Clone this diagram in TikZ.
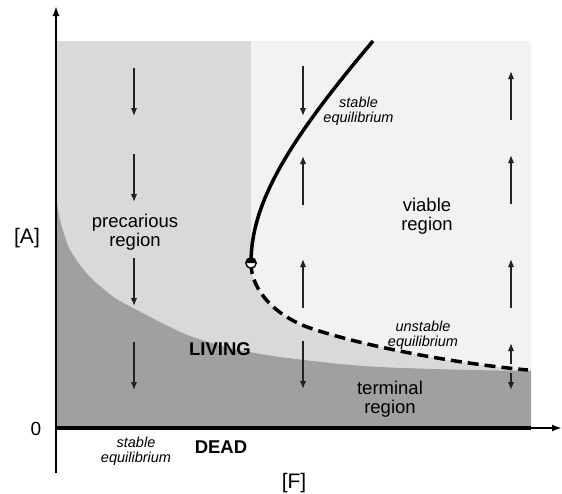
\documentclass[tikz,border=0pt]{standalone}
\usepackage{fontspec}
\setmainfont{Liberation Sans}
\usetikzlibrary{arrows.meta}
\definecolor{darkreg}{HTML}{A0A0A0}
\definecolor{lightreg}{HTML}{D9D9D9}
\definecolor{vlightreg}{HTML}{F2F2F2}
\definecolor{arrowcol}{HTML}{222222}
\tikzset{
  lbl/.style={font=\fontsize{18.5}{19}\selectfont, align=center, inner sep=0pt, anchor=base},
  ilbl/.style={font=\fontsize{14.5}{15}\selectfont\itshape, align=center, inner sep=0pt, anchor=base},
  blbl/.style={font=\fontsize{18.5}{19}\selectfont\bfseries, inner sep=0pt, anchor=base},
  axlbl/.style={font=\fontsize{21}{22}\selectfont, inner sep=0pt, anchor=base},
  flow/.style={draw=arrowcol, line width=1.5pt, -{Latex[length=8pt,width=6.5pt]}},
  axisline/.style={line width=1.8pt, -{Latex[length=10pt,width=7pt]}},
  eqline/.style={line width=3.5pt},
  uneqline/.style={line width=3.5pt, dash pattern=on 11pt off 6pt}
}
\begin{document}
\begin{tikzpicture}[x=1pt,y=-1pt]
\useasboundingbox (0,0) rectangle (562,493);
% regions
\fill[lightreg] (57,41) rectangle (531,428);
\fill[vlightreg] (251,41) -- (531,41) -- (531,370) -- (528,370)
  .. controls (450,363) and (360,345) .. (310,328)
  .. controls (278,317) and (251,292) .. (251,263) -- cycle;
\fill[darkreg] plot[smooth, tension=0.5] coordinates {(57,203) (60,220) (65,237) (70,250) (80,265) (90,277) (100,286) (115,298) (133,308) (160,322) (190,336) (230,348) (280,357) (363,366) (450,369.5) (531,371)} -- (531,428) -- (57,428) -- cycle;
% axes
\coordinate (origin) at (56,428);
\coordinate (ytop) at (56,6);
\coordinate (ybot) at (56,473);
\coordinate (xend) at (562,428);
\coordinate (deadend) at (531,428);
\draw[axisline] (ybot) -- (ytop);
\draw[axisline] (origin) -- (xend);
\draw[line width=4pt] (origin) -- (deadend);
% equilibrium curves
\coordinate (fold) at (251,263);
\draw[eqline] (fold) .. controls (251,205) and (285,145) .. (373,41);
\draw[uneqline] (fold) .. controls (251,292) and (278,317) .. (310,328)
  .. controls (360,345) and (450,363) .. (528,370);
\fill[white] (fold) circle[radius=5.2];
\fill[black] (fold) -- ++(-5.2,0) arc[start angle=180, end angle=360, radius=5.2] -- cycle;
\draw[line width=1.4pt] (fold) circle[radius=5.2];
% flow arrows
\foreach \x/\a/\b in {134/68/116, 134/154/202, 134/258/306, 134/342/390,
                      303/66/116, 303/205/156, 303/308/259, 303/341/389,
                      511/120/71, 511/204/155, 511/308/259, 511/364/343, 511/373/390}
  \draw[flow] (\x,\a) -- (\x,\b);
% labels
\node[lbl] (prec) at (135,246.5) {precarious\\region};
\node[lbl] (viab) at (427,230) {viable\\region};
\node[lbl] (term) at (390,413) {terminal\\region};
\node[ilbl] (steq) at (358.5,122) {stable\\equilibrium};
\node[ilbl] (uneq) at (423,346) {unstable\\equilibrium};
\node[ilbl] (deq) at (136,462.5) {stable\\equilibrium};
\node[blbl] (living) at (220,355) {LIVING};
\node[blbl] (dead) at (221,453) {DEAD};
\node[axlbl] (alab) at (27,243) {[A]};
\node[axlbl, font=\fontsize{19}{20}\selectfont] (zero) at (36,435) {0};
\node[axlbl] (flab) at (294,488) {[F]};
\end{tikzpicture}
\end{document}
